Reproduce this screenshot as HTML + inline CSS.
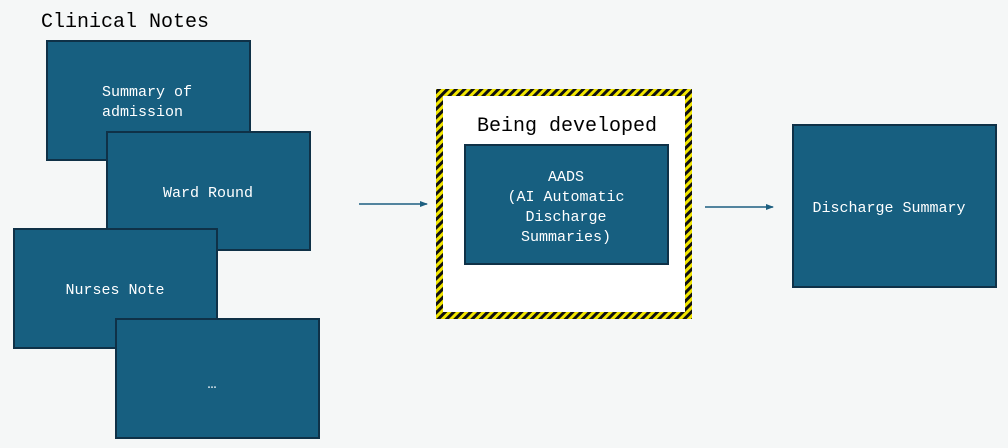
<!DOCTYPE html>
<html><head><meta charset="utf-8"><style>
html,body{margin:0;padding:0;background:#f5f7f7;}
svg{display:block}
text{font-family:"Liberation Mono","DejaVu Sans Mono",monospace;}
</style></head><body>
<svg width="1008" height="448" viewBox="0 0 1008 448" xmlns="http://www.w3.org/2000/svg">
<defs>
<pattern id="hz" patternUnits="userSpaceOnUse" width="6" height="6" patternTransform="rotate(45)">
<rect width="6" height="6" fill="#f2e600"/><rect width="3" height="6" fill="#111"/>
</pattern>
<marker id="ar" markerWidth="8" markerHeight="8" refX="7" refY="4" orient="auto" markerUnits="userSpaceOnUse">
<path d="M0,1 L8,4 L0,7 Z" fill="#1d5f80"/>
</marker>
</defs>
<rect width="1008" height="448" fill="#f5f7f7"/>
<text x="41" y="27" font-size="20" fill="#000">Clinical Notes</text>
<g fill="#175f80" stroke="#0f3147" stroke-width="2">
<rect x="47" y="41" width="203" height="119"/>
<rect x="107" y="132" width="203" height="118"/>
<rect x="14" y="229" width="203" height="119"/>
<rect x="116" y="319" width="203" height="119"/>
<rect x="465" y="145" width="203" height="119"/>
<rect x="793" y="125" width="203" height="162"/>
</g>
<g fill="#fff" font-size="15">
<text x="102" y="96">Summary of</text>
<text x="102" y="116">admission</text>
<text x="208" y="197" text-anchor="middle">Ward Round</text>
<text x="115" y="294" text-anchor="middle">Nurses Note</text>
<text x="212" y="388" text-anchor="middle">…</text>
<text x="566" y="181" text-anchor="middle">AADS</text>
<text x="566" y="201" text-anchor="middle">(AI Automatic</text>
<text x="566" y="221" text-anchor="middle">Discharge</text>
<text x="566" y="241" text-anchor="middle">Summaries)</text>
<text x="889" y="212" text-anchor="middle">Discharge Summary</text>
</g>
<path fill-rule="evenodd" fill="url(#hz)" d="M436,89 H692 V319 H436 Z M443,96 V312 H685 V96 Z"/>
<rect x="443" y="96" width="242" height="216" fill="#fff"/>
<rect x="465" y="145" width="203" height="119" fill="#175f80" stroke="#0f3147" stroke-width="2"/>
<g fill="#fff" font-size="15">
<text x="566" y="181" text-anchor="middle">AADS</text>
<text x="566" y="201" text-anchor="middle">(AI Automatic</text>
<text x="566" y="221" text-anchor="middle">Discharge</text>
<text x="566" y="241" text-anchor="middle">Summaries)</text>
</g>
<text x="567" y="131" font-size="20" fill="#000" text-anchor="middle">Being developed</text>
<line x1="359" y1="204" x2="427" y2="204" stroke="#1d5f80" stroke-width="1.5" marker-end="url(#ar)"/>
<line x1="705" y1="207" x2="773" y2="207" stroke="#1d5f80" stroke-width="1.5" marker-end="url(#ar)"/>
</svg>
</body></html>
